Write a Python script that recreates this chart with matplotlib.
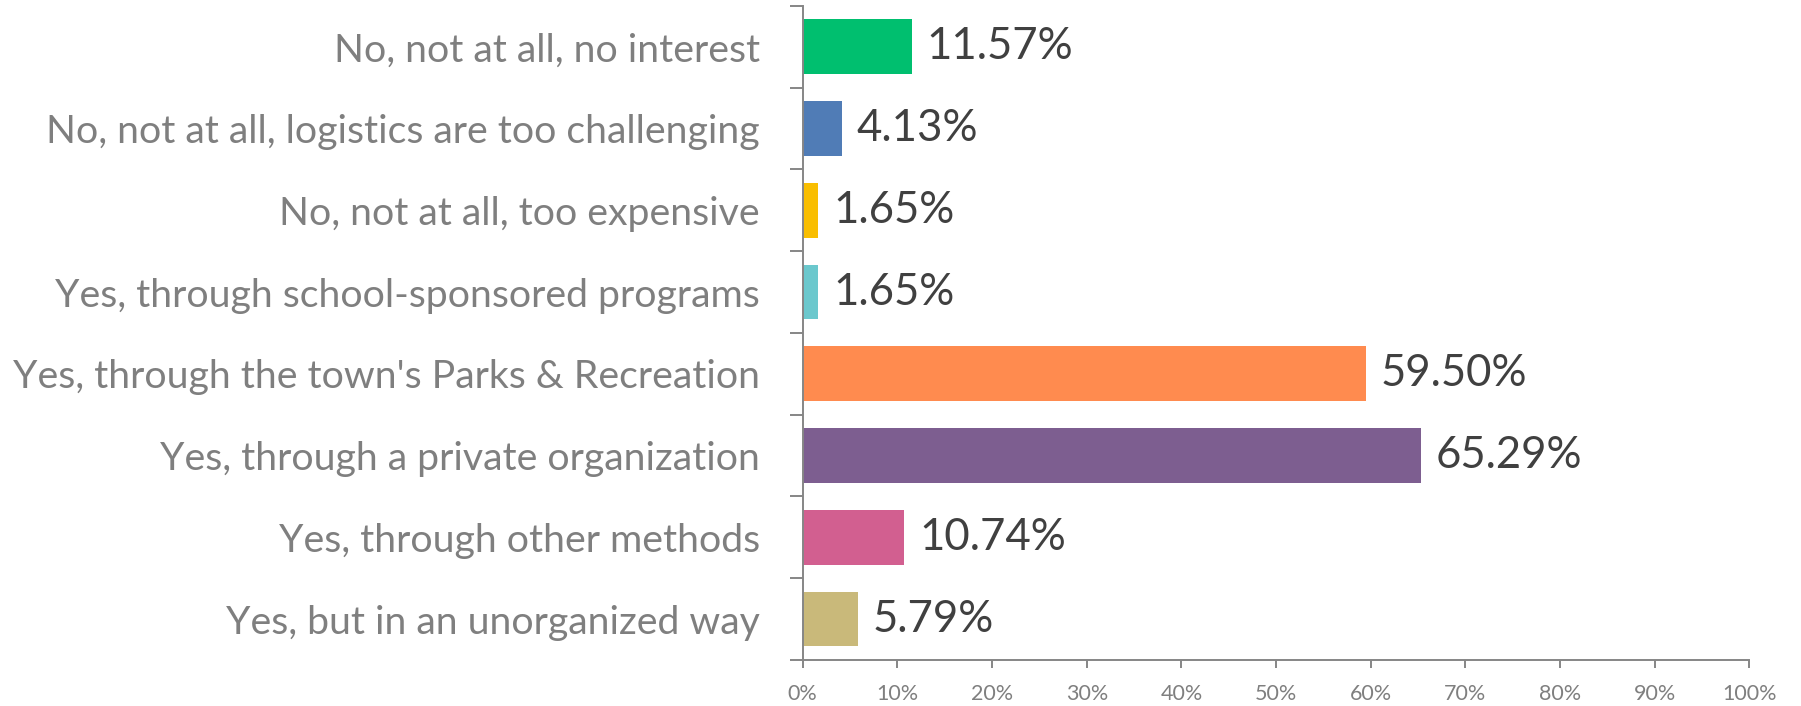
import matplotlib
matplotlib.use("Agg")
import matplotlib.pyplot as plt
from matplotlib.ticker import FixedLocator, PercentFormatter
import numpy as np

categories = [
    "No, not at all, no interest",
    "No, not at all, logistics are too challenging",
    "No, not at all, too expensive",
    "Yes, through school-sponsored programs",
    "Yes, through the town's Parks & Recreation",
    "Yes, through a private organization",
    "Yes, through other methods",
    "Yes, but in an unorganized way",
]
values = [11.57, 4.13, 1.65, 1.65, 59.50, 65.29, 10.74, 5.79]
colors = ["#00BF6F", "#507CB6", "#F9BE00", "#6BC8CD", "#FF8B4F", "#7D5E90", "#D25F90", "#C9B97A"]
x_ticks = [0, 10, 20, 30, 40, 50, 60, 70, 80, 90, 100]

FONT = ["Lato", "DejaVu Sans"]
plt.rcParams["font.family"] = FONT

fig = plt.figure(figsize=(18.01, 7.06), dpi=100)
ax = fig.add_axes([0.4457, 0.0652, 0.9714 - 0.4457, 0.9915 - 0.0652])

n = len(categories)
y = np.arange(n)
ax.barh(y, values, height=0.67, color=colors, zorder=2)
ax.set_ylim(n - 0.5, -0.5)
ax.set_xlim(0, 100)

for yi, v in zip(y, values):
    ax.annotate(f"{v:.2f}%", xy=(v, yi), xytext=(10.5, 0), textcoords="offset points",
                ha="left", va="center", fontsize=31.5, color="#404040")

ax.set_yticks(y)
ax.set_yticklabels(categories, fontsize=28.3, color="#7F7F7F")
ax.tick_params(axis="y", which="major", length=0, pad=31)
ax.yaxis.set_minor_locator(FixedLocator(np.arange(n + 1) - 0.5))
ax.tick_params(axis="y", which="minor", length=9.5, width=1.4, color="#868686", direction="out")

ax.set_xticks(x_ticks)
ax.xaxis.set_major_formatter(PercentFormatter(decimals=0))
ax.tick_params(axis="x", which="major", length=6, width=1.4, color="#868686",
               labelsize=15.5, labelcolor="#7F7F7F", pad=11)

for s in ["top", "right"]:
    ax.spines[s].set_visible(False)
for s in ["left", "bottom"]:
    ax.spines[s].set_color("#868686")
    ax.spines[s].set_linewidth(1.4)

fig.savefig("out.png", dpi=100, facecolor="white")
